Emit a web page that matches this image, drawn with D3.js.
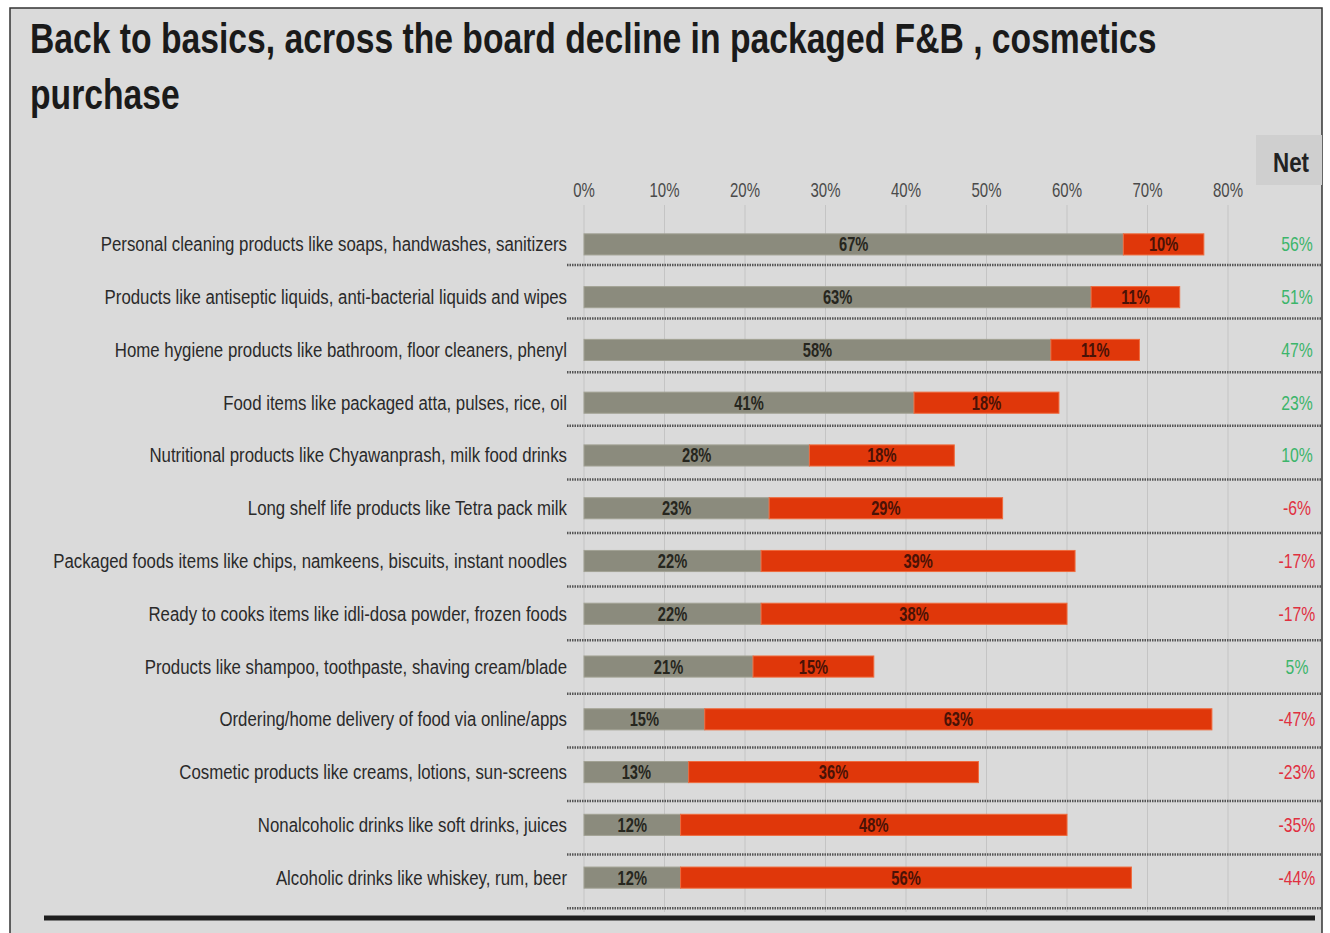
<!DOCTYPE html>
<html>
<head>
<meta charset="utf-8">
<script src="https://cdn.jsdelivr.net/npm/d3@7.9.0/dist/d3.min.js"></script>
<style>
  body { margin: 0; background: #fff; }
  svg { display: block; }
  text { font-family: "Liberation Sans", Arial, sans-serif; }
</style>
</head>
<body>
<svg id="chart" width="1330" height="933"></svg>
<script>
// categories and values
const categories = [
  "Personal cleaning products like soaps, handwashes, sanitizers",
  "Products like antiseptic liquids, anti-bacterial liquids and wipes",
  "Home hygiene products like bathroom, floor cleaners, phenyl",
  "Food items like packaged atta, pulses, rice, oil",
  "Nutritional products like Chyawanprash, milk food drinks",
  "Long shelf life products like Tetra pack milk",
  "Packaged foods items like chips, namkeens, biscuits, instant noodles",
  "Ready to cooks items like idli-dosa powder, frozen foods",
  "Products like shampoo, toothpaste, shaving cream/blade",
  "Ordering/home delivery of food via online/apps",
  "Cosmetic products like creams, lotions, sun-screens",
  "Nonalcoholic drinks like soft drinks, juices",
  "Alcoholic drinks like whiskey, rum, beer"
];
const increase = [67, 63, 58, 41, 28, 23, 22, 22, 21, 15, 13, 12, 12];
const decrease = [10, 11, 11, 18, 18, 29, 39, 38, 15, 63, 36, 48, 56];
const net = [56, 51, 47, 23, 10, -6, -17, -17, 5, -47, -23, -35, -44];
const tickValues = [0, 10, 20, 30, 40, 50, 60, 70, 80];

const svg = d3.select('#chart');

// no narrow font installed, so squeeze text horizontally
function squeeze(sel, sx) {
  sel.each(function () {
    const t = d3.select(this);
    const tx = +t.attr('x'), ty = +t.attr('y');
    t.attr('x', 0).attr('y', 0).attr('transform', `translate(${tx},${ty}) scale(${sx},1)`);
  });
}

// panel background + frame
svg.append('rect').attr('x', 10).attr('y', 8).attr('width', 1312).attr('height', 940)
  .attr('fill', '#dadada').attr('stroke', '#333').attr('stroke-width', 1.5);

// title
const t1 = svg.append('text').attr('x', 30).attr('y', 53).attr('font-weight', 'bold')
  .attr('font-size', 43).attr('fill', '#1a1a1a')
  .text('Back to basics, across the board decline in packaged F&B , cosmetics');
const titleScale = 1127 / t1.node().getComputedTextLength();
const t2 = svg.append('text').attr('x', 30).attr('y', 109).attr('font-weight', 'bold')
  .attr('font-size', 43).attr('fill', '#1a1a1a').text('purchase');
squeeze(t1, titleScale);
squeeze(t2, titleScale);

// scales
const x = d3.scaleLinear().domain([0, 80]).range([584, 1228]);
const y = d3.scaleBand().domain(categories).range([218, 904]).paddingInner(0.6).paddingOuter(0.3);
const mid = d => y(d) + y.bandwidth() / 2;
// the dotted row rules are spaced a little wider than the bars in the original
const ySep = d3.scaleBand().domain(categories).range([211.4, 908.2]);

// vertical grid
svg.append('g').selectAll('line').data(tickValues).join('line')
  .attr('x1', d => x(d)).attr('x2', d => x(d))
  .attr('y1', 205).attr('y2', 912)
  .attr('stroke', '#c4c4c4').attr('stroke-width', 1);

// top axis labels
squeeze(svg.append('g').selectAll('text').data(tickValues).join('text')
  .attr('x', d => x(d)).attr('y', 197)
  .attr('text-anchor', 'middle').attr('font-size', 20).attr('fill', '#4a4a4a')
  .text(d => d + '%'), 0.75);

// Net header box
svg.append('rect').attr('x', 1256).attr('y', 135).attr('width', 66).attr('height', 50).attr('fill', '#cfcfcf');
squeeze(svg.append('text').attr('x', 1291).attr('y', 172).attr('text-anchor', 'middle')
  .attr('font-size', 28).attr('font-weight', 'bold').attr('fill', '#222').text('Net'), 0.8);

// dotted separators below each row
svg.append('g').selectAll('line').data(categories).join('line')
  .attr('x1', 567).attr('x2', 1322)
  .attr('y1', d => ySep(d) + ySep.step()).attr('y2', d => ySep(d) + ySep.step())
  .attr('stroke', '#555').attr('stroke-width', 2.5).attr('stroke-dasharray', '1.5,1');

const rows = svg.append('g').selectAll('g').data(categories).join('g');

// category labels, squeezed so the longest fits like the reference
const labels = rows.append('text')
  .attr('x', 567).attr('y', d => mid(d) + 7)
  .attr('text-anchor', 'end').attr('font-size', 20).attr('fill', '#2a2a2a')
  .text(d => d);
const longest = d3.max(labels.nodes(), n => n.getComputedTextLength());
squeeze(labels, 514 / longest);

// increase (gray) segment
rows.append('rect')
  .attr('x', x(0)).attr('y', d => y(d))
  .attr('width', (d, i) => x(increase[i]) - x(0)).attr('height', y.bandwidth())
  .attr('fill', '#8b8b7d').attr('stroke', '#a2a294').attr('stroke-width', 1);

// decrease (red) segment
rows.append('rect')
  .attr('x', (d, i) => x(increase[i])).attr('y', d => y(d))
  .attr('width', (d, i) => x(increase[i] + decrease[i]) - x(increase[i])).attr('height', y.bandwidth())
  .attr('fill', '#e0370a').attr('stroke', '#ef6a3c').attr('stroke-width', 1);

// segment labels
squeeze(rows.append('text')
  .attr('x', (d, i) => x(increase[i] / 2)).attr('y', d => mid(d) + 7)
  .attr('text-anchor', 'middle').attr('font-size', 21).attr('font-weight', 'bold').attr('fill', '#26261e')
  .text((d, i) => increase[i] + '%'), 0.7);
squeeze(rows.append('text')
  .attr('x', (d, i) => x(increase[i] + decrease[i] / 2)).attr('y', d => mid(d) + 7)
  .attr('text-anchor', 'middle').attr('font-size', 21).attr('font-weight', 'bold').attr('fill', '#4a1206')
  .text((d, i) => decrease[i] + '%'), 0.7);

// net column
squeeze(rows.append('text')
  .attr('x', 1297).attr('y', d => mid(d) + 7)
  .attr('text-anchor', 'middle').attr('font-size', 21)
  .attr('fill', (d, i) => net[i] >= 0 ? '#3cb56a' : '#e0303f')
  .text((d, i) => net[i] + '%'), 0.75);

// heavy rule at the bottom
svg.append('line').attr('x1', 44).attr('x2', 1315).attr('y1', 918).attr('y2', 918)
  .attr('stroke', '#1e1e1e').attr('stroke-width', 5);
</script>
</body>
</html>
